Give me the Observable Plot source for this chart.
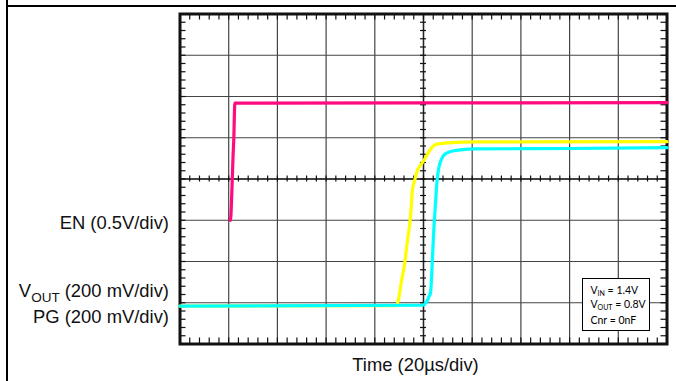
<!DOCTYPE html>
<html>
<head>
<meta charset="utf-8">
<script src="https://cdn.jsdelivr.net/npm/d3@7"></script>
<script src="https://cdn.jsdelivr.net/npm/@observablehq/plot@0.6"></script>
<style>
  html, body { margin: 0; padding: 0; background: #fff; }
  #wrap { position: relative; width: 676px; height: 381px; overflow: hidden; }
  .hline { position: absolute; left: 6px; top: 5px; width: 670px; height: 1.5px; background: #000; }
  .vline { position: absolute; left: 6px; top: 0; width: 1.5px; height: 381px; background: #000; }
  #note { position: absolute; left: 582px; top: 278px; width: 66px; height: 51px;
          border: 1.5px solid #000; background: #fff;
          font-family: Lato, "Open Sans", sans-serif; font-size: 10.5px; color: #000; }
  #note div { position: absolute; left: 7.5px; white-space: nowrap; line-height: 12px; }
  #note sub { font-size: 7px; vertical-align: -2px; line-height: 0; }
</style>
</head>
<body>
<div id="wrap">
  <div id="chart"></div>
  <div class="hline"></div>
  <div class="vline"></div>
  <div id="note">
    <div style="top:5px">V<sub>IN</sub> = 1.4V</div>
    <div style="top:19px">V<sub>OUT</sub> = 0.8V</div>
    <div style="top:35px">Cnr = 0nF</div>
  </div>
</div>
<script>
// ---- scope settings ----
const usPerDiv = 20;           // time base, µs/div
const divsX = 10;
const divsY = 8;

// ---- channels ----
const channelNames   = ["EN", "VOUT", "PG"];
const channelLabels  = ["EN (0.5V/div)", "V{OUT} (200 mV/div)", "PG (200 mV/div)"];
const voltsPerDiv    = [0.5, 0.2, 0.2];
const groundDiv      = [-1, -3.08, -3.08];   // channel ground marker position (div)
const channelColors  = ["#ff0a7f", "#ffff00", "#00ffff"];

// ---- traces: time (µs) and volts ----
const enTime   = [20.65, 20.9, 21.18, 21.47, 21.8, 22.13, 22.33, 22.54, 200];
const enVolt   = [0.0, 0.055, 0.25, 0.5, 0.79, 1.02, 1.28, 1.42, 1.425];

const voutTime = [0, 88.5, 89.6, 90.85, 92.3, 93.4, 94.7, 95.4, 96.4, 97.4, 99.05, 100.8, 102.9, 104.6, 106.3, 111.1, 121.3, 200];
const voutVolt = [0.0, 0.002, 0.025, 0.113, 0.21, 0.316, 0.437, 0.558, 0.611, 0.655, 0.687, 0.719, 0.76, 0.781, 0.787, 0.792, 0.796, 0.797];

const pgTime   = [0, 99.5, 101.5, 102.4, 102.9, 103.6, 104.1, 104.6, 105.6, 106.3, 107.4, 108.7, 111.1, 115.2, 121.3, 160.3, 200];
const pgVolt   = [0.0, 0.004, 0.025, 0.049, 0.065, 0.21, 0.34, 0.437, 0.611, 0.671, 0.712, 0.736, 0.749, 0.757, 0.762, 0.764, 0.768];

const xLabel = "Time (20µs/div)";

// ---- build tables ----
function rows(ti, vo, ch) {
  return ti.map((t, i) => ({t, div: vo[i] / voltsPerDiv[ch] + groundDiv[ch]}));
}
const traces = [rows(enTime, enVolt, 0), rows(voutTime, voutVolt, 1), rows(pgTime, pgVolt, 2)];

const xMax = usPerDiv * divsX;
const yMax = divsY / 2;
const majorX = d3.range(0, xMax + 1e-9, usPerDiv);
const majorY = d3.range(-yMax, yMax + 1e-9, 1);
const minorX = d3.range(0, xMax + 1e-9, usPerDiv / 5);
const minorY = d3.range(-yMax, yMax + 1e-9, 0.2);

const pxX = 48.72 / usPerDiv;   // px per µs (for tick lengths)
const pxY = 41.25;              // px per div
const edgeTick = 6, midTick = 3;

const labelDy = [3, -15, 11];
const fs = 18.4;

const chart = Plot.plot({
  width: 676, height: 381,
  marginLeft: 179.5, marginRight: 9.5, marginTop: 13.5, marginBottom: 37.5,
  style: {fontFamily: '"Liberation Sans", Arial, sans-serif', background: "#fff", overflow: "visible"},
  x: {domain: [0, xMax], axis: null},
  y: {domain: [-yMax, yMax], axis: null},
  marks: [
    Plot.ruleX(majorX, {stroke: "#444", strokeWidth: 1.2}),
    Plot.ruleY(majorY, {stroke: "#444", strokeWidth: 1.2}),
    Plot.ruleX([xMax / 2], {stroke: "#222", strokeWidth: 1.4}),
    Plot.ruleY([0], {stroke: "#222", strokeWidth: 1.4}),
    // edge ticks
    Plot.ruleX(minorX, {y1: yMax, y2: yMax - edgeTick / pxY, stroke: "#111", strokeWidth: 1.2}),
    Plot.ruleX(minorX, {y1: -yMax, y2: -yMax + edgeTick / pxY, stroke: "#111", strokeWidth: 1.2}),
    Plot.ruleY(minorY, {x1: 0, x2: edgeTick / pxX, stroke: "#111", strokeWidth: 1.2}),
    Plot.ruleY(minorY, {x1: xMax, x2: xMax - edgeTick / pxX, stroke: "#111", strokeWidth: 1.2}),
    // centre-axis ticks
    Plot.ruleX(minorX, {y1: -midTick / pxY, y2: midTick / pxY, stroke: "#111", strokeWidth: 1.2}),
    Plot.ruleY(minorY, {x1: xMax / 2 - midTick / pxX, x2: xMax / 2 + midTick / pxX, stroke: "#111", strokeWidth: 1.2}),
    Plot.frame({stroke: "#111", strokeWidth: 3}),
    // traces
    ...traces.map((d, i) => Plot.line(d, {x: "t", y: "div", stroke: channelColors[i], strokeWidth: 3.2, curve: "monotone-x"})),
    // channel labels
    ...channelLabels.map((lab, i) => Plot.text([lab], {x: 0, y: groundDiv[i], text: (d) => d,
      textAnchor: "end", dx: -11, dy: labelDy[i], fontSize: fs, fill: "#111"})),
    Plot.text([xLabel], {frameAnchor: "bottom", dx: -8, dy: 27, fontSize: fs, fill: "#111"})
  ]
});

d3.select(chart).selectAll("text").each(function () {
  const s = this.textContent;
  const m = s.match(/^(.*?)\{(.+?)\}(.*)$/);
  if (!m) return;
  const t = d3.select(this);
  t.text(null);
  t.append("tspan").text(m[1]);
  t.append("tspan").attr("dy", "5px").attr("font-size", "13.5px").text(m[2]);
  t.append("tspan").attr("dy", "-5px").text(m[3]);
});

document.getElementById("chart").appendChild(chart);
</script>
</body>
</html>
